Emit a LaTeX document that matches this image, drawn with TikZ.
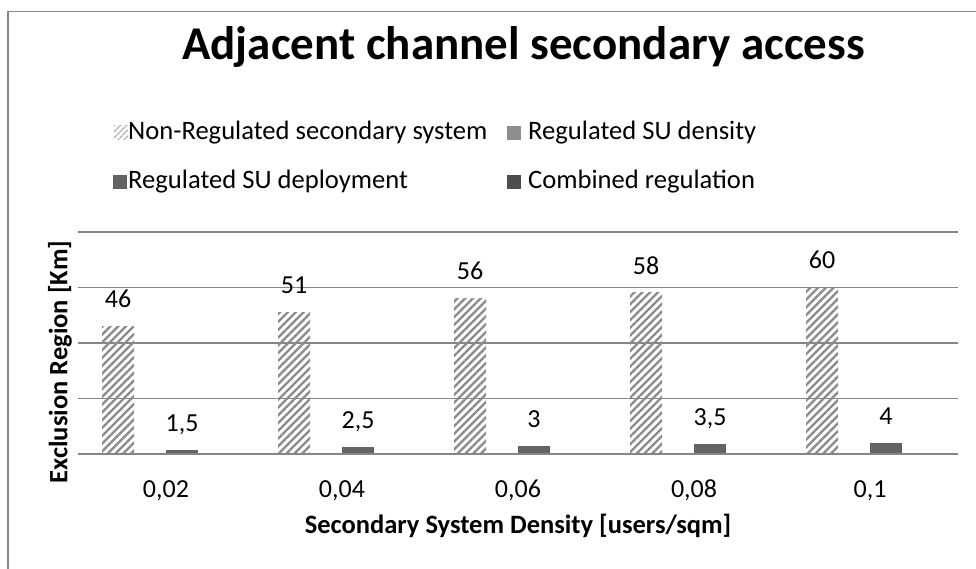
\documentclass[tikz,border=0pt]{standalone}
\usepackage{fontspec}
\setmainfont{Carlito}
\usetikzlibrary{patterns.meta}
\definecolor{gridgray}{HTML}{868686}
\definecolor{hatchgray}{HTML}{8A8A8A}
\definecolor{densgray}{HTML}{8E8E8E}
\definecolor{deplgray}{HTML}{636363}
\definecolor{combgray}{HTML}{4D4D4D}
\tikzset{
    gridline/.style = {draw=gridgray, line width=1.6pt},
    axisline/.style = {draw=gridgray, line width=2.2pt},
    barn/.style = {pattern={Lines[angle=45,distance=5.5pt,line width=2.3pt]}, pattern color=hatchgray},
    bard/.style = {fill=deplgray},
    val/.style = {anchor=base, inner sep=0pt, font=\fontsize{26}{26}\selectfont},
    tick/.style = {anchor=base, inner sep=0pt, font=\fontsize{26}{26}\selectfont},
    legtxt/.style = {anchor=base west, inner sep=0pt, font=\fontsize{26.6}{27}\selectfont},
    legbox/.style = {minimum size=14pt, inner sep=0pt, anchor=south west},
    axtitle/.style = {inner sep=0pt, font=\bfseries\fontsize{26.5}{26.5}\selectfont}
}

\begin{document}
\begin{tikzpicture}[x=1pt,y=-1pt]
  \useasboundingbox (0,0) rectangle (976,569);
  % chart frame
  \draw[gridgray, line width=1.5pt] (8,569) -- (8,11.5) -- (976,11.5);

  % title
  \node[anchor=base, inner sep=0pt, font=\bfseries\fontsize{47}{47}\selectfont] (title) at (523.5,60) {Adjacent channel secondary access};

  % legend
  \node[legbox, pattern={Lines[angle=45,distance=4pt,line width=1.5pt]}, pattern color=hatchgray!70] (lgn) at (113,140) {};
  \node[legtxt] (lgntxt) at (128,140) {Non-Regulated secondary system};
  \node[legbox, fill=densgray] (lgd) at (507,140) {};
  \node[legtxt] (lgdtxt) at (528,140) {Regulated SU density};
  \node[legbox, fill=deplgray] (lgp) at (113,189) {};
  \node[legtxt] (lgptxt) at (128,189) {Regulated SU deployment};
  \node[legbox, fill=combgray] (lgc) at (507,189) {};
  \node[legtxt] (lgctxt) at (528,189) {Combined regulation};

  % grid
  \draw[gridline] (78,232) -- (958,232);
  \draw[gridline] (78,287.5) -- (958,287.5);
  \draw[gridline] (78,343) -- (958,343);
  \draw[gridline] (78,398.5) -- (958,398.5);

  % bars (0.02 ... 0.1)
  \fill[barn] (102,454) rectangle (134,326.1);
  \fill[bard] (166,454) rectangle (198,449.8);
  \fill[barn] (278,454) rectangle (310,312.2);
  \fill[bard] (342,454) rectangle (374,447.0);
  \fill[barn] (454,454) rectangle (486,298.3);
  \fill[bard] (518,454) rectangle (550,445.7);
  \fill[barn] (630,454) rectangle (662,292.8);
  \fill[bard] (694,454) rectangle (726,444.3);
  \fill[barn] (806,454) rectangle (838,287.2);
  \fill[bard] (870,454) rectangle (902,442.9);

  % axis
  \draw[axisline] (78,454) -- (958,454);

  % value labels
  \node[val] (v1a) at (118,307) {46};
  \node[val] (v1b) at (182,431) {1,5};
  \node[val] (v2a) at (294,293) {51};
  \node[val] (v2b) at (358,428) {2,5};
  \node[val] (v3a) at (470,279) {56};
  \node[val] (v3b) at (534,427) {3};
  \node[val] (v4a) at (646,274) {58};
  \node[val] (v4b) at (710,425) {3,5};
  \node[val] (v5a) at (822,268) {60};
  \node[val] (v5b) at (886,424) {4};

  % category labels
  \node[tick] (t1) at (166,497) {0,02};
  \node[tick] (t2) at (342,497) {0,04};
  \node[tick] (t3) at (518,497) {0,06};
  \node[tick] (t4) at (694,497) {0,08};
  \node[tick] (t5) at (870,497) {0,1};

  % axis titles
  \node[axtitle, anchor=base] (xtitle) at (518,533) {Secondary System Density [users/sqm]};
  \node[axtitle, rotate=90] (ytitle) at (60,362) {Exclusion Region [Km]};
\end{tikzpicture}
\end{document}
